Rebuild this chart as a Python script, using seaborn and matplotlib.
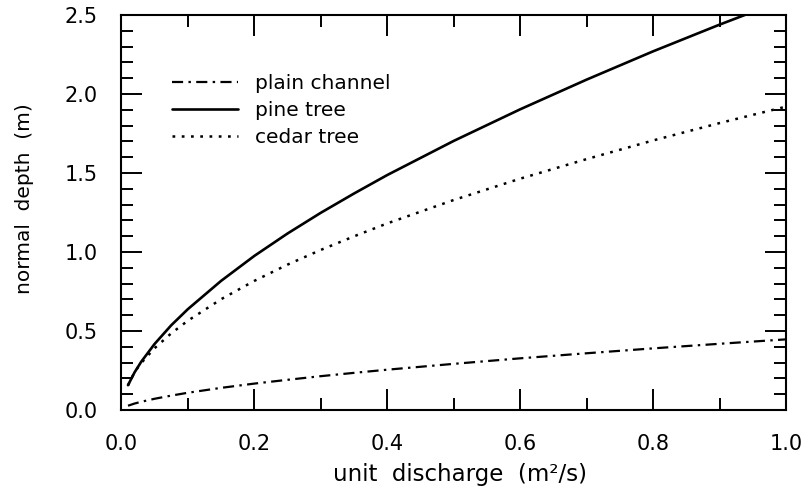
import matplotlib
matplotlib.use("Agg")
import matplotlib.pyplot as plt
from matplotlib.ticker import MultipleLocator, FormatStrFormatter
import seaborn as sns
import pandas as pd

# unit discharge q (m^2/s)
q = [0.01, 0.02, 0.03, 0.05, 0.075, 0.10, 0.15, 0.20, 0.25, 0.30, 0.35,
     0.40, 0.50, 0.60, 0.70, 0.80, 0.90, 1.00]
# normal depth (m)
plain_channel = [0.027, 0.041, 0.052, 0.071, 0.091, 0.109, 0.140, 0.167, 0.191,
                 0.214, 0.235, 0.255, 0.292, 0.327, 0.359, 0.390, 0.419, 0.447]
pine_tree = [0.157, 0.239, 0.306, 0.418, 0.536, 0.638, 0.817, 0.975, 1.117,
             1.248, 1.370, 1.487, 1.703, 1.903, 2.091, 2.270, 2.439, 2.600]
cedar_tree = [0.155, 0.241, 0.298, 0.391, 0.485, 0.565, 0.701, 0.817, 0.920,
              1.013, 1.099, 1.181, 1.329, 1.464, 1.588, 1.706, 1.816, 1.920]

labels = ["plain channel", "pine tree", "cedar tree"]
xlabel = "unit  discharge  (m²/s)"
ylabel = "normal  depth  (m)"

sns.set_style("ticks")
plt.rcParams["font.family"] = ["DejaVu Sans"]
plt.rcParams["text.color"] = "black"
plt.rcParams["axes.labelcolor"] = "black"
plt.rcParams["xtick.color"] = "black"
plt.rcParams["ytick.color"] = "black"

fig = plt.figure(figsize=(8.09, 4.92), dpi=100)
ax = fig.add_axes([0.150, 0.1667, 0.8216, 0.8028])

df_plain = pd.DataFrame({"q": q, "h": plain_channel})
df_pine = pd.DataFrame({"q": q, "h": pine_tree})
df_cedar = pd.DataFrame({"q": q, "h": cedar_tree})

sns.lineplot(data=df_plain, x="q", y="h", ax=ax, color="black", lw=1.6,
             linestyle=(0, (5.0, 2.4, 1.1, 2.4)), label=labels[0])
sns.lineplot(data=df_pine, x="q", y="h", ax=ax, color="black", lw=1.9,
             linestyle="-", label=labels[1])
sns.lineplot(data=df_cedar, x="q", y="h", ax=ax, color="black", lw=1.8,
             linestyle=(0, (1.1, 2.6)), label=labels[2])

ax.set_xlim(0, 1.0)
ax.set_ylim(0, 2.5)
ax.xaxis.set_major_locator(MultipleLocator(0.2))
ax.xaxis.set_minor_locator(MultipleLocator(0.1))
ax.yaxis.set_major_locator(MultipleLocator(0.5))
ax.yaxis.set_minor_locator(MultipleLocator(0.1))
ax.xaxis.set_major_formatter(FormatStrFormatter("%.1f"))
ax.yaxis.set_major_formatter(FormatStrFormatter("%.1f"))

for side in ["left", "right", "top", "bottom"]:
    ax.spines[side].set_visible(True)
    ax.spines[side].set_linewidth(1.5)
    ax.spines[side].set_color("black")

ax.tick_params(which="both", direction="in", top=True, right=True,
               color="black", width=1.4, labelsize=15, labelcolor="black")
ax.tick_params(which="major", length=15, pad=17)
ax.tick_params(which="minor", length=8.5)

ax.set_xlabel(xlabel, fontsize=16.5)
ax.set_ylabel(ylabel, fontsize=14.5)
ax.xaxis.set_label_coords(0.509, -0.133)
ax.yaxis.set_label_coords(-0.132, 0.535)

leg = ax.legend(loc="upper left", bbox_to_anchor=(0.076, 0.851), frameon=False,
                fontsize=14.5, handlelength=3.28, handletextpad=0.85,
                labelspacing=0.40, borderpad=0, borderaxespad=0)
for t in leg.get_texts():
    t.set_color("black")

fig.savefig("out.png", dpi=100)
